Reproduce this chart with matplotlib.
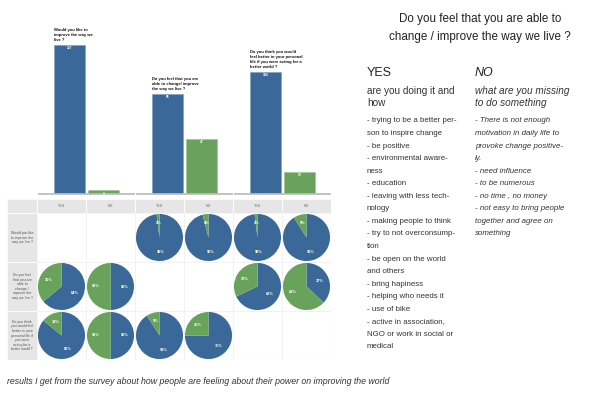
import matplotlib
matplotlib.use("Agg")
import matplotlib.pyplot as plt
from matplotlib.patches import Rectangle

W, H = 594, 393
BLUE = "#3a6899"
GREEN = "#69a35b"
TXT = "#333333"
plt.rcParams['font.family'] = ['Liberation Sans', 'DejaVu Sans']

# ---------------- data ----------------
bar_questions = ["Would you like to\nimprove the way we\nlive ?",
                 "Do you feel that you are\nable to change/ improve\nthe way we live ?",
                 "Do you think you would\nfeel better in your personal\nlife if you were acting for a\nbetter world ?"]
yes_counts = [127, 85, 104]
no_counts = [3, 47, 19]

row_labels = ["Would you like\nto improve the\nway we live ?",
              "Do you feel\nthat you are\nable to\nchange /\nimprove the\nway we live ?",
              "Do you think\nyou would feel\nbetter in your\npersonal life if\nyou were\nacting for a\nbetter world ?"]
col_labels = ["YES", "NO", "YES", "NO", "YES", "NO"]
# share of "YES" (blue) answers in each cross-tab pie; None = empty cell
pie_yes_share = [
    [None, None, 98, 96, 98, 91],
    [64, 50, None, None, 68, 37],
    [86, 50, 91, 75, None, None],
]

title = "Do you feel that you are able to\nchange / improve the way we live ?"
yes_head, no_head = "YES", "NO"
yes_sub = "are you doing it and\nhow"
no_sub = "what are you missing\nto do something"
yes_items = ["- trying to be a better per-\nson to inspire change",
             "- be positive",
             "- environmental aware-\nness",
             "- education",
             "- leaving with less tech-\nnology",
             "- making people to think",
             "- try to not overconsump-\ntion",
             "- be open on the world\nand others",
             "- bring hapiness",
             "- helping who needs it",
             "- use of bike",
             "- active in association,\nNGO or work in social or\nmedical"]
no_items = ["- There is not enough\nmotivation in daily life to\nprovoke change positive-\nly.",
            "- need influence",
            "- to be numerous",
            "- no time , no money",
            "- not easy to bring people\ntogether and agree on\nsomething"]
footnote = "results I get from the survey about how people are feeling about their power on improving the world"

# ---------------- helpers ----------------
fig = plt.figure(figsize=(W / 100, H / 100), dpi=100)


def rect(x, y, w, h):
    return [x / W, 1 - (y + h) / H, w / W, h / H]


def fx(x):
    return x / W


def fy(y):
    return 1 - y / H


# ---------------- bar panels ----------------
panel_left = [39, 137, 235]
panel_w = 95
top, base = 20, 194
ymax = 148
for i in range(3):
    ax = fig.add_axes(rect(panel_left[i], top, panel_w, base - top))
    ax.set_xlim(-0.897, 1.897)
    ax.set_ylim(0, ymax)
    ax.bar([0], [yes_counts[i]], width=0.91, color=BLUE, edgecolor="#7f9cc0", linewidth=0.4)
    ax.bar([1], [no_counts[i]], width=0.91, color=GREEN, edgecolor="#9cc48f", linewidth=0.4)
    for xx, v in zip([0, 1], [yes_counts[i], no_counts[i]]):
        ax.text(xx, v - 1.2, str(v), ha="center", va="top", fontsize=2.3, color="white", fontweight="bold")
    ax.text(-0.45, yes_counts[i] + 2.5, bar_questions[i], ha="left", va="bottom",
            fontsize=3.0, fontweight="bold", color="#111111", linespacing=1.35)
    for s in ["top", "left", "right"]:
        ax.spines[s].set_visible(False)
    ax.spines["bottom"].set_color("#bdbdbd")
    ax.spines["bottom"].set_linewidth(1.3)
    ax.set_xticks([])
    ax.set_yticks([])
    ax.patch.set_alpha(0)

# ---------------- cross-tab table ----------------
tx0, ty0 = 7, 199
lab_w, head_h = 30, 14
cw, rh = 49, 49
tab = fig.add_axes(rect(tx0, ty0, lab_w + 6 * cw, head_h + 3 * rh))
tab.set_xlim(0, lab_w + 6 * cw)
tab.set_ylim(head_h + 3 * rh, 0)
tab.axis("off")
gray = "#e6e6e6"
tab.add_patch(Rectangle((0, 0), lab_w + 6 * cw, head_h + 3 * rh, facecolor="white", edgecolor="#d8d8d8", lw=0.8))
tab.add_patch(Rectangle((0, 0), lab_w, head_h, facecolor=gray, edgecolor="white", lw=0.6))
for j, lab in enumerate(col_labels):
    tab.add_patch(Rectangle((lab_w + j * cw, 0), cw, head_h, facecolor=gray, edgecolor="white", lw=0.6))
    tab.text(lab_w + j * cw + cw / 2, head_h / 2, lab, ha="center", va="center", fontsize=2.6, color="#666666")
for r, lab in enumerate(row_labels):
    tab.add_patch(Rectangle((0, head_h + r * rh), lab_w, rh, facecolor=gray, edgecolor="white", lw=0.6))
    tab.text(lab_w / 2, head_h + r * rh + rh / 2, lab, ha="center", va="center", fontsize=2.5,
             color="#555555", linespacing=1.2)
    for j in range(6):
        tab.add_patch(Rectangle((lab_w + j * cw, head_h + r * rh), cw, rh, facecolor="none",
                                edgecolor="#f0f0f0", lw=0.4))

for r in range(3):
    for j in range(6):
        v = pie_yes_share[r][j]
        if v is None:
            continue
        cx = tx0 + lab_w + j * cw
        cy = ty0 + head_h + r * rh
        pax = fig.add_axes(rect(cx + 0.5, cy + 0.5, cw - 1, rh - 1))
        wedges, _, autot = pax.pie([v, 100 - v], colors=[BLUE, GREEN], startangle=90, counterclock=False,
                                   autopct="%.0f%%", pctdistance=0.62, radius=1.0,
                                   wedgeprops=dict(linewidth=0),
                                   textprops=dict(color="white", fontsize=2.8, fontweight="bold"))
        pax.set_xlim(-1.02, 1.02)
        pax.set_ylim(-1.02, 1.02)
        pax.set_aspect("equal")

# ---------------- right-hand text ----------------
fig.text(fx(480), fy(28), title, ha="center", va="center", fontsize=8.4, color="#222222", linespacing=1.6)
fig.text(fx(367), fy(73), yes_head, ha="left", va="center", fontsize=9, color="#222222")
fig.text(fx(475), fy(73), no_head, ha="left", va="center", fontsize=9, color="#222222", style="italic")
fig.text(fx(367), fy(96.5), yes_sub, ha="left", va="center", fontsize=7.2, color=TXT, linespacing=1.25)
fig.text(fx(475), fy(96.5), no_sub, ha="left", va="center", fontsize=7.2, color=TXT, linespacing=1.25,
         style="italic")

step = 12.55
line = 0
for item in yes_items:
    for ln in item.split("\n"):
        fig.text(fx(367), fy(121 + line * step), ln, ha="left", va="center", fontsize=5.7, color=TXT)
        line += 1
line = 0
for item in no_items:
    for ln in item.split("\n"):
        fig.text(fx(475), fy(121 + line * step), ln, ha="left", va="center", fontsize=5.7, color=TXT,
                 style="italic")
        line += 1

fig.text(fx(7), fy(381), footnote, ha="left", va="center", fontsize=6.3, color=TXT, style="italic")

fig.savefig("out.png", dpi=100, facecolor="white")
